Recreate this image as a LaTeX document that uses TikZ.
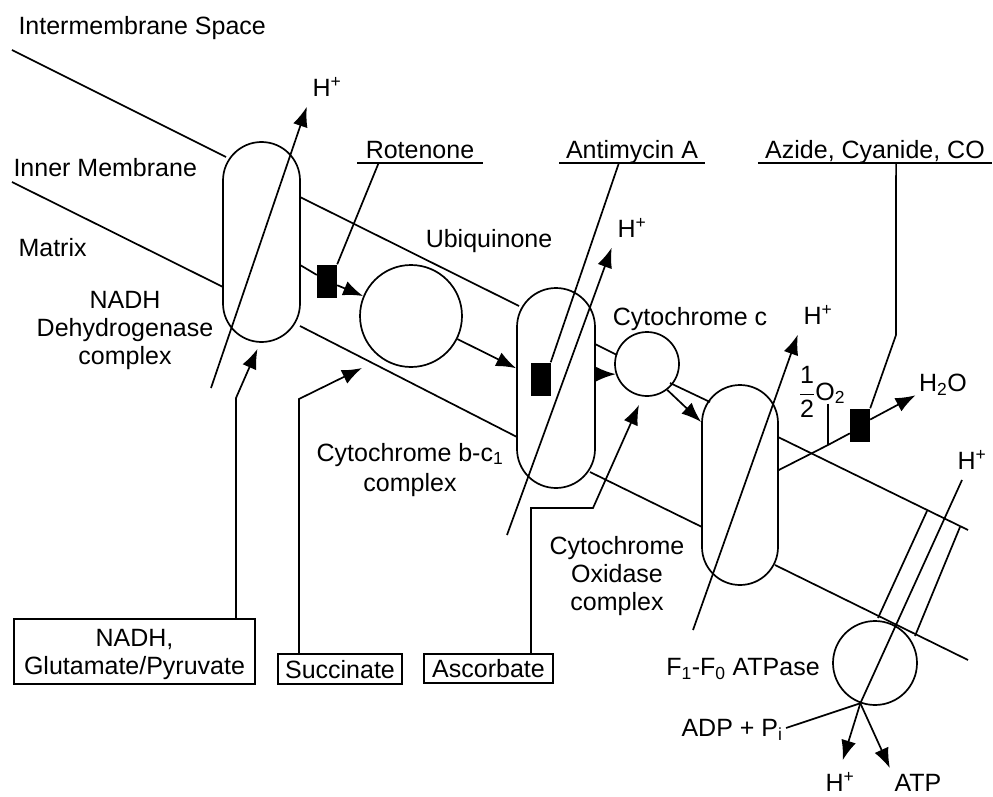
\documentclass[tikz,border=0pt]{standalone}
\usepackage{fontspec}
\setmainfont{Liberation Sans}
\usetikzlibrary{arrows.meta,calc}
\begin{document}
\begin{tikzpicture}[x=1pt,y=-1pt,
    font=\fontsize{25}{28}\selectfont,
    every node/.append style={text depth=0pt},
    mem/.style={line width=1.7pt},
    arr/.style={line width=1.7pt,-{Latex[length=20pt,width=15pt]}},
    pill/.style={draw,line width=1.7pt,minimum width=#1,minimum height=200,rounded corners=#1/2},
    ball/.style={draw,circle,line width=1.7pt,minimum size=#1,inner sep=0pt},
    block/.style={fill=black,minimum width=20,minimum height=33,inner sep=0pt},
    inbox/.style={draw,line width=1.5pt,inner sep=0pt,align=center},
    tag/.style={anchor=south,inner xsep=0pt,inner ysep=4pt}]
  \useasboundingbox (0,0) rectangle (993,797);

  \node[pill=77] (nadh) at (261.5,242) {};
  \node[pill=78] (bc) at (556,388) {};
  \node[pill=76] (cox) at (740,485) {};
  \node[ball=102] (ubq) at (411,316) {};
  \node[ball=64] (cytc) at (647,364) {};
  \node[ball=84] (atpase) at (875,663) {};

  \draw[mem] (12,50) -- (226,157);
  \draw[mem] (300,197) -- (519,306);
  \draw[mem] (595,344) -- (617,355);
  \draw[mem] (670,383) -- (710,402);
  \draw[mem] (778,437) -- (968,530);
  \draw[mem] (12,182) -- (223,287);
  \draw[mem] (300,326) -- (517,437);
  \draw[mem] (590,472) -- (702,527);
  \draw[mem] (775,565) -- (968,660);
  \draw[mem] (927,511) -- (878,618);
  \draw[mem] (960,527) -- (915,636);

  \node[anchor=west] (ims) at (15,25) {Intermembrane Space};
  \node[anchor=west] (inner) at (10,167) {Inner Membrane};
  \node[anchor=west] (matrix) at (15,247) {Matrix};
  \node[align=center] (nadhlbl) at (125,328) {NADH\\Dehydrogenase\\complex};
  \node (ubqlbl) at (489,238) {Ubiquinone};
  \node (cytclbl) at (690,316) {Cytochrome c};
  \node[align=center,font=\fontsize{25}{30}\selectfont] (bclbl) at (410,467) {Cytochrome b-c\textsubscript{1}\\complex};
  \node[align=center] (coxlbl) at (617,573) {Cytochrome\\Oxidase\\complex};
  \node (atplbl) at (743,667) {F\textsubscript{1}-F\textsubscript{0} ATPase};

  \node[inbox,minimum width=241,minimum height=65] (nadhin) at (134.5,651.5) {NADH,\\Glutamate/Pyruvate};
  \node[inbox,minimum width=124,minimum height=30] (succ) at (340,669) {Succinate};
  \node[inbox,minimum width=129,minimum height=29] (asc) at (488.5,668.5) {Ascorbate};

  \node[tag,minimum width=125] (rot) at (420,163) {Rotenone};
  \node[tag,minimum width=145] (ant) at (632,163) {Antimycin A};
  \node[tag,minimum width=234] (az) at (875,163) {Azide, Cyanide, CO};
  \draw[mem] (rot.south west) -- (rot.south east);
  \draw[mem] (ant.south west) -- (ant.south east);
  \draw[mem] (az.south west) -- (az.south east);

  \node[block] (rotblk) at (327,281) {};
  \node[block] (antblk) at (540.5,379) {};
  \node[block] (azblk) at (860,425) {};

  \node (hnadh) at (327,87) {H\textsuperscript{+}};
  \node (hbc) at (632,228) {H\textsuperscript{+}};
  \node (hcox) at (818,315) {H\textsuperscript{+}};
  \node (hfo) at (972,460) {H\textsuperscript{+}};
  \node (hout) at (840,782) {H\textsuperscript{+}};
  \node (atp) at (918,783) {ATP};
  \node (adp) at (732,728) {ADP + P\textsubscript{i}};
  \node (water) at (943,383) {H\textsubscript{2}O};
  \node (oxy) at (822,383) {$\displaystyle\frac{\mbox{1}}{\mbox{2}}$O\textsubscript{2}};

  \coordinate (nadhfoot) at (211,388);
  \coordinate (bcfoot) at (507,535);
  \coordinate (coxfoot) at (693,630);
  \coordinate (fotop) at (962,480);
  \coordinate (nadhbend) at (236,398);
  \coordinate (succbend) at (299,399);
  \coordinate (succtip) at (362,368);
  \coordinate (ascbend) at (531,508);
  \coordinate (ascknee) at (593,508);
  \coordinate (azbend) at (896,335);
  \coordinate (o2foot) at (828,445);

  \draw[arr,shorten >=7pt] (nadhfoot) -- (hnadh.south west);
  \draw[arr,shorten >=7pt] (bcfoot) -- (hbc.south west);
  \draw[arr,shorten >=7pt] (coxfoot) -- (hcox.south west);
  \draw[mem] (fotop) -- (atpase.-110);
  \draw[arr,shorten >=9pt] (atpase.-110) -- (hout.north);
  \draw[arr,shorten >=3pt] (atpase.-110) -- (atp.north west);
  \draw[mem] (adp.east) -- (atpase.-110);

  \draw[mem] ($(rot.south west)!.17!(rot.south east)$) -- (rotblk.north east);
  \draw[mem] (nadh) -- (rotblk);
  \draw[arr] (rotblk) -- (ubq);
  \draw[arr] (ubq) -- (bc);
  \draw[mem] ($(ant.south west)!.41!(ant.south east)$) -- (antblk.north east);
  \draw[arr] (bc.east |- cytc.198) -- (cytc.198);
  \draw[arr] (cytc.-52) -- (cox.west |- 0,422);
  \draw[mem] ($(az.south west)!.59!(az.south east)$) -- (azbend) -- (azblk.north east);
  \draw[mem] ($(cox.east)+(0,-15)$) -- (o2foot) -- ($(azblk.west)!.5!(azblk.south west)$);
  \draw[mem] (oxy.south -| o2foot) -- (o2foot);
  \draw[arr] (azblk) -- (water.south west);

  \draw[arr] (nadhin.north -| nadhbend) -- (nadhbend) -- ($(nadh.south)+(-4,6)$);
  \draw[arr] (succ.north -| succbend) -- (succbend) -- (succtip);
  \draw[arr] (asc.north -| ascbend) -- (ascbend) -- (ascknee) -- ($(cytc.south)+(-8,8)$);
\end{tikzpicture}
\end{document}
